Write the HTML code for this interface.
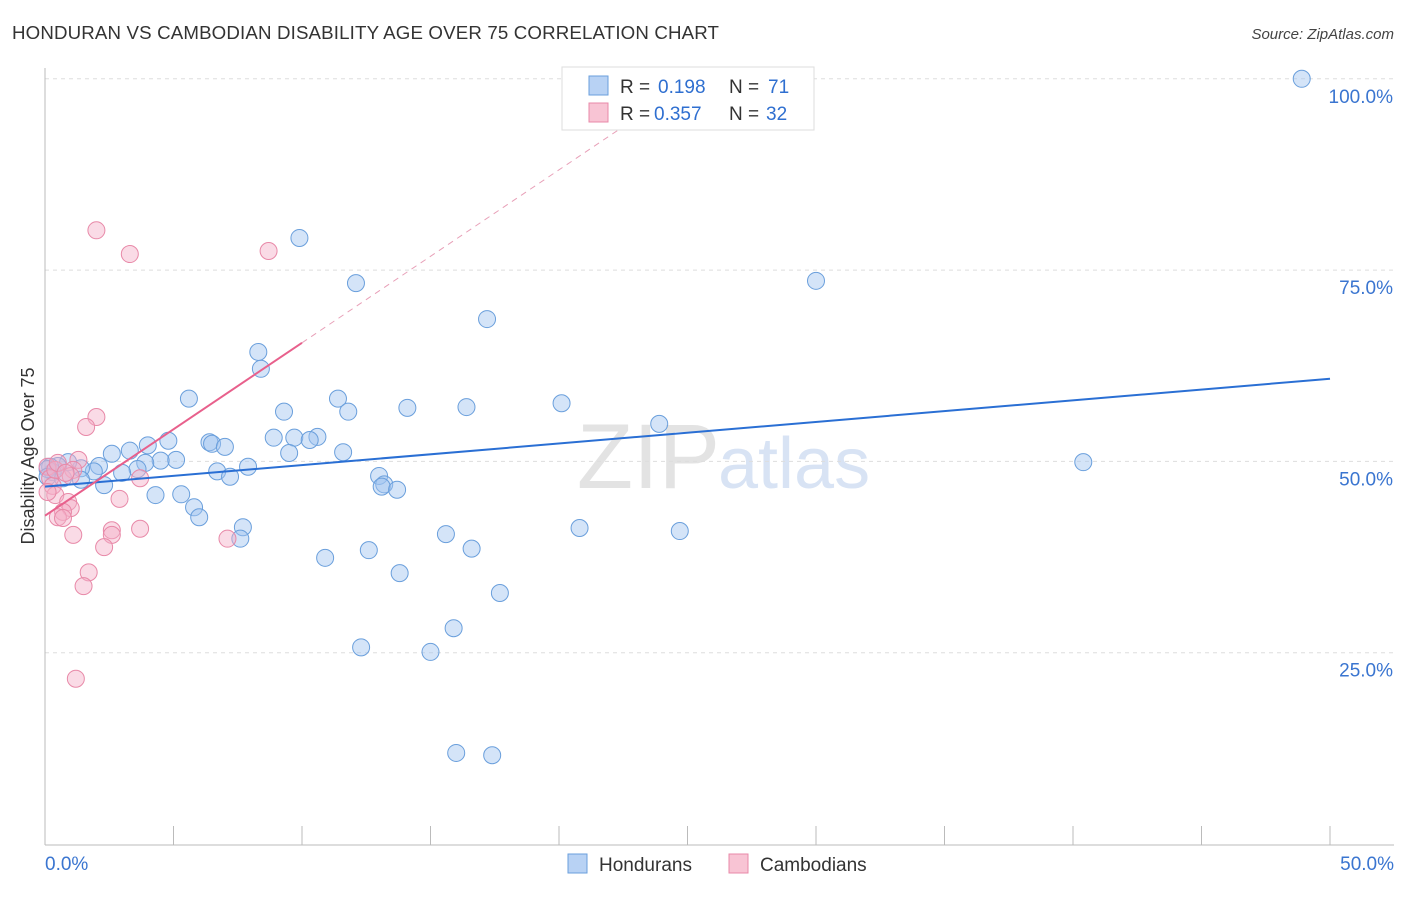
<!DOCTYPE html>
<html><head><meta charset="utf-8"><style>
body{margin:0;background:#fff;font-family:"Liberation Sans",sans-serif;}
svg text{font-family:"Liberation Sans",sans-serif;}
</style></head><body>
<svg id="chart" width="1406" height="892" xmlns="http://www.w3.org/2000/svg">
<text x="12" y="39" font-size="18.7" fill="#333" letter-spacing="0.15">HONDURAN VS CAMBODIAN DISABILITY AGE OVER 75 CORRELATION CHART</text>
<text x="1394" y="39" font-size="15" fill="#444" text-anchor="end" font-style="italic">Source: ZipAtlas.com</text>
<text x="720" y="488" font-size="92" text-anchor="end" fill="#ddd" font-family="Liberation Serif" opacity="0.8">ZIP</text>
<text x="718" y="488" font-size="72" fill="#c8d8f0" opacity="0.7">atlas</text>
<g id="grid"></g>
<g id="axes"></g>
<g id="trends"></g>
<g id="points"></g>
<text transform="translate(34,456) rotate(-90)" font-size="18" fill="#333" text-anchor="middle">Disability Age Over 75</text>
<g>
<rect x="562" y="67" width="252" height="63" fill="#fff" stroke="#ddd"/>
<rect x="589" y="76" width="19" height="19" fill="#b8d2f4" stroke="#6a9fdc"/>
<rect x="589" y="103" width="19" height="19" fill="#f8c4d4" stroke="#e889a8"/>
<text x="620" y="93" font-size="19" fill="#333">R =</text>
<text x="658" y="93" font-size="19" fill="#2f6fd0">0.198</text>
<text x="729" y="93" font-size="19" fill="#333">N =</text>
<text x="768" y="93" font-size="19" fill="#2f6fd0">71</text>
<text x="620" y="120" font-size="19" fill="#333">R =</text>
<text x="654" y="120" font-size="19" fill="#2f6fd0">0.357</text>
<text x="729" y="120" font-size="19" fill="#333">N =</text>
<text x="766" y="120" font-size="19" fill="#2f6fd0">32</text>
</g>
<g>
<rect x="568" y="854" width="19" height="19" fill="#b8d2f4" stroke="#6a9fdc"/>
<text x="599" y="871" font-size="19" fill="#333">Hondurans</text>
<rect x="729" y="854" width="19" height="19" fill="#f8c4d4" stroke="#e889a8"/>
<text x="760" y="871" font-size="19" fill="#333">Cambodians</text>
</g>
</svg>
<script>
const xTicks=[0,5,10,15,20,25,30,35,40,45,50];
const yTicks=[25,50,75,100];
const yTickLabels=["25.0%","50.0%","75.0%","100.0%"];
const hondX=[48.9,9.9,12.1,30.0,17.2,8.3,8.4,5.6,11.4,9.3,11.8,14.1,16.4,20.1,23.9,8.9,9.7,10.6,10.3,9.5,11.6,4.8,4.0,3.3,2.6,6.4,6.5,7.0,5.1,4.5,3.9,3.6,6.7,7.9,7.2,13.0,13.2,13.1,13.7,2.1,3.0,1.9,1.4,0.9,0.5,0.3,0.2,0.1,0.1,0.7,1.4,2.3,4.3,5.3,5.8,6.0,7.7,7.6,15.6,20.8,24.7,16.6,12.6,10.9,13.8,17.7,15.9,12.3,15.0,16.0,17.4,40.4];
const hondY=[100.0,79.2,73.3,73.6,68.6,64.3,62.1,58.2,58.2,56.5,56.5,57.0,57.1,57.6,54.9,53.1,53.1,53.2,52.8,51.1,51.2,52.7,52.1,51.4,51.0,52.5,52.3,51.9,50.2,50.1,49.8,49.0,48.7,49.3,48.0,48.1,47.0,46.7,46.3,49.4,48.5,48.7,49.1,49.9,49.4,48.6,49.3,49.0,48.0,47.8,47.6,46.9,45.6,45.7,44.0,42.7,41.4,39.9,40.5,41.3,40.9,38.6,38.4,37.4,35.4,32.8,28.2,25.7,25.1,11.9,11.6,49.9];
const cambX=[2.0,3.3,8.7,2.0,1.6,1.3,1.1,1.0,0.1,0.2,0.3,0.4,0.1,0.9,1.0,0.7,0.5,0.7,2.9,3.7,2.6,2.6,2.3,3.7,1.1,1.7,1.5,1.2,7.1,0.4,0.5,0.8];
const cambY=[80.2,77.1,77.5,55.8,54.5,50.2,48.9,48.1,49.3,47.8,46.8,45.6,46.0,44.7,43.9,43.4,42.7,42.6,45.1,47.8,41.0,40.4,38.8,41.2,40.4,35.5,33.7,21.6,39.9,48.9,49.8,48.5];
const hondTrend=[46.7,60.8];
const cambTrend=[42.9,65.5];
const NS="http://www.w3.org/2000/svg";
const X=v=>45+v*25.7, Y=v=>844-v*7.652;
function mk(tag,attrs,parent){const e=document.createElementNS(NS,tag);for(const k in attrs)e.setAttribute(k,attrs[k]);document.getElementById(parent).appendChild(e);return e;}
yTicks.forEach((t,i)=>{
 const g=mk('line',{x1:45,x2:1394,y1:Y(t),y2:Y(t),stroke:'#ddd','stroke-dasharray':'4,4'},'grid');
 
 
 const l=mk('text',{x:1393,y:Y(t)+24,'font-size':19,fill:'#3a75d0','text-anchor':'end'},'axes');
 l.textContent=yTickLabels[i];
 
 
});
const ax=mk('line',{x1:45,x2:45,y1:68,y2:845,stroke:'#bbb'},'axes');


const bx=mk('line',{x1:45,x2:1394,y1:845,y2:845,stroke:'#bbb'},'axes');


xTicks.forEach(t=>{
 const k=mk('line',{x1:X(t),x2:X(t),y1:826,y2:845,stroke:'#bbb'},'axes');
 
 
});
const xl0=mk('text',{x:45,y:870,'font-size':19,fill:'#3a75d0'},'axes');xl0.textContent='0.0%';


const xl1=mk('text',{x:1394,y:870,'font-size':19,fill:'#3a75d0','text-anchor':'end'},'axes');xl1.textContent='50.0%';


const slope=(cambTrend[1]-cambTrend[0])/10;
const xEnd=(100-cambTrend[0])/slope;
const d=mk('line',{x1:X(10),y1:Y(cambTrend[1]),x2:X(xEnd),y2:Y(100),stroke:'#e8a0b8','stroke-dasharray':'6,5','stroke-width':1},'trends');


hondX.forEach((x,i)=>{
 const c=mk('circle',{cx:X(x),cy:Y(hondY[i]),r:8.5,fill:'rgba(160,196,240,0.45)',stroke:'#6a9fdc','stroke-width':1},'points');
 
 
});
cambX.forEach((x,i)=>{
 const c=mk('circle',{cx:X(x),cy:Y(cambY[i]),r:8.5,fill:'rgba(244,176,200,0.45)',stroke:'#e889a8','stroke-width':1},'points');
 
 
});
const bt=mk('line',{x1:X(0),y1:Y(hondTrend[0]),x2:X(50),y2:Y(hondTrend[1]),stroke:'#2a6fd4','stroke-width':2},'points');


const pt=mk('line',{x1:X(0),y1:Y(cambTrend[0]),x2:X(10),y2:Y(cambTrend[1]),stroke:'#e8608c','stroke-width':2},'points');


</script>
</body></html>
